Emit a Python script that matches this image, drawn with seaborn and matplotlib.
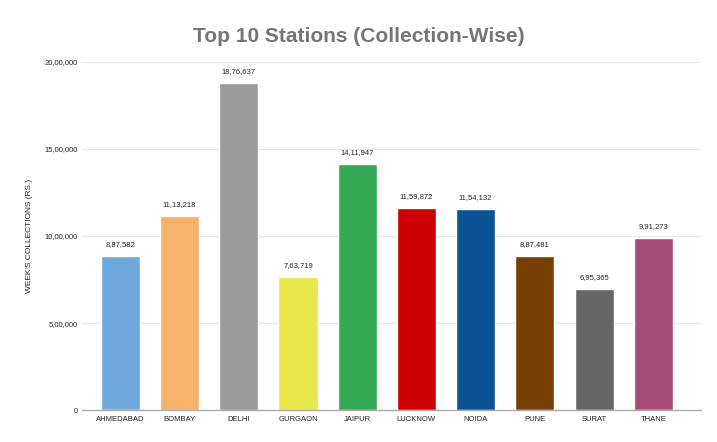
import matplotlib
matplotlib.use("Agg")
import matplotlib.pyplot as plt
import seaborn as sns
import pandas as pd
from matplotlib.ticker import FuncFormatter

stations = ["AHMEDABAD", "BOMBAY", "DELHI", "GURGAON", "JAIPUR",
            "LUCKNOW", "NOIDA", "PUNE", "SURAT", "THANE"]
collections = [887582, 1113218, 1876637, 763719, 1411947,
               1159872, 1154132, 887481, 695365, 991273]
colors = ["#6fa8dc", "#f6b26b", "#999999", "#e8e84a", "#34a853",
          "#cc0000", "#0b5394", "#783f04", "#666666", "#a64d79"]
yticks = [0, 500000, 1000000, 1500000, 2000000]


def indian(n):
    s = str(int(round(n)))
    if len(s) <= 3:
        return s
    head, tail = s[:-3], s[-3:]
    parts = []
    while len(head) > 2:
        parts.insert(0, head[-2:])
        head = head[:-2]
    if head:
        parts.insert(0, head)
    return ",".join(parts) + "," + tail


df = pd.DataFrame({"station": stations, "value": collections})

sns.set_style("white")
plt.rcParams["font.family"] = ["Liberation Sans", "DejaVu Sans"]

fig, ax = plt.subplots(figsize=(7.17, 4.42), dpi=100)
fig.subplots_adjust(left=0.115, right=0.978, top=0.86, bottom=0.072)

sns.barplot(data=df, x="station", y="value", hue="station", palette=colors,
            legend=False, width=0.66, ax=ax, saturation=1)

for i, v in enumerate(collections):
    ax.text(i, v + 45000, indian(v), ha="center", va="bottom",
            fontsize=5.5, color="#222222")

ax.set_ylim(0, 2000000)
ax.set_xlim(-0.64, 9.81)
ax.set_yticks(yticks)
ax.yaxis.set_major_formatter(FuncFormatter(lambda v, p: indian(v)))
ax.grid(axis="y", color="#e6e6e6", linewidth=0.8)
ax.set_axisbelow(True)
for s in ["top", "right", "left"]:
    ax.spines[s].set_visible(False)
ax.spines["bottom"].set_color("#aaaaaa")
ax.spines["bottom"].set_linewidth(1.0)
ax.tick_params(axis="both", length=0, labelsize=5.5, colors="#222222")
ax.tick_params(axis="x", pad=4)
ax.set_xlabel("")
ax.set_ylabel("WEEK'S COLLECTIONS (RS.)", fontsize=6, color="#222222", labelpad=8)

fig.suptitle("Top 10 Stations (Collection-Wise)", fontsize=15, fontweight="bold",
             color="#757575", y=0.94)

fig.savefig("out.png", dpi=100)
